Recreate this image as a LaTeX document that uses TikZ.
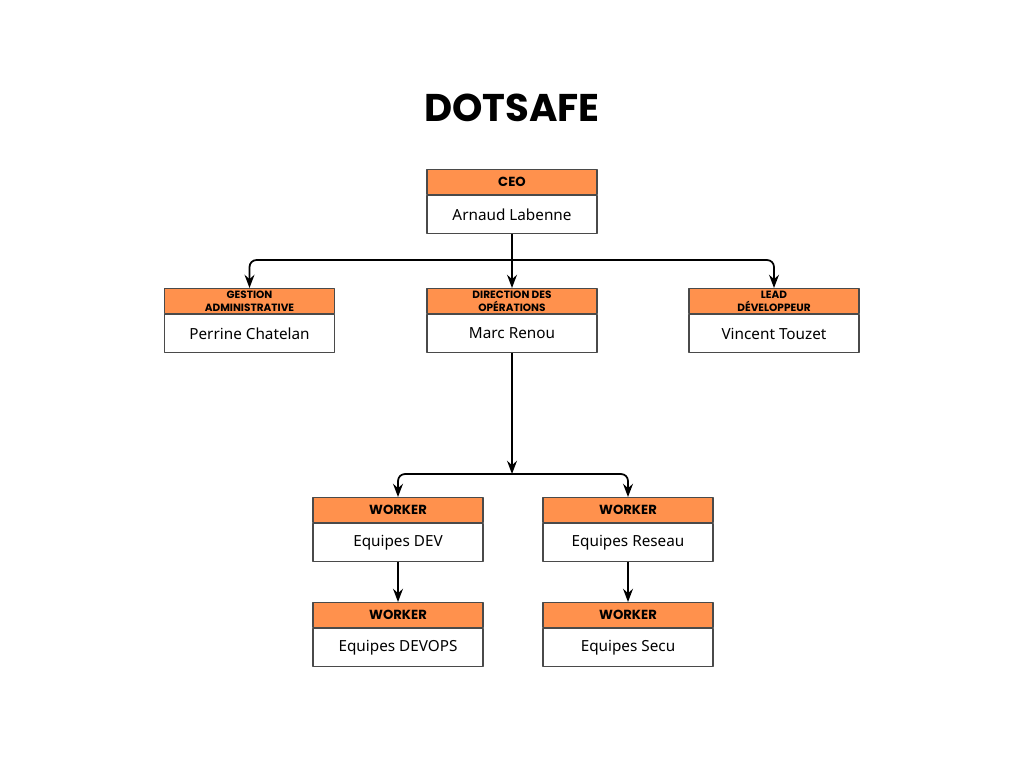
\documentclass[tikz,border=0pt]{standalone}
\usepackage{fontspec}
\setmainfont{Noto Sans}
\newfontfamily\poppins{Poppins}
\usetikzlibrary{arrows.meta}
\definecolor{dsorange}{HTML}{FF914D}
\definecolor{boxline}{HTML}{4A4A4A}
\begin{document}
\begin{tikzpicture}[x=0.02cm,y=-0.02cm,>=Stealth,line join=round,
  hdr/.style={draw=boxline,line width=0.6pt,fill=dsorange,minimum width=3.4cm,minimum height=0.5cm,inner sep=0pt,anchor=north,align=center,font=\poppins\bfseries\fontsize{7.5}{8}\selectfont},
  hdrsmall/.style={hdr,font=\poppins\bfseries\fontsize{6}{7.2}\selectfont},
  body/.style={draw=boxline,line width=0.6pt,fill=white,minimum width=3.4cm,minimum height=0.76cm,inner sep=0pt,anchor=north,font=\fontsize{8.7}{10}\selectfont},
  link/.style={->,line width=1pt,rounded corners=4pt}]
				\useasboundingbox (0,0) rectangle (1024,768);
				\node[font=\poppins\bfseries\fontsize{22}{24}\selectfont] (title) at (512,108) {DOTSAFE};
				% first level
				\node[hdr] (ceoH) at (512,169) {CEO};
				\node[body] (ceo) at (ceoH.south) {Arnaud Labenne};
				\node[hdrsmall] (gesH) at (249.5,288) {GESTION\\ADMINISTRATIVE};
				\node[body] (ges) at (gesH.south) {Perrine Chatelan};
				\node[hdrsmall] (dirH) at (512,288) {DIRECTION DES\\OPÉRATIONS};
				\node[body] (dir) at (dirH.south) {Marc Renou};
				\node[hdrsmall] (leadH) at (774,288) {LEAD\\DÉVELOPPEUR};
				\node[body] (lead) at (leadH.south) {Vincent Touzet};
				% workers
				\node[hdr] (devH) at (398,497) {WORKER};
				\node[body] (dev) at (devH.south) {Equipes DEV};
				\node[hdr] (resH) at (628,497) {WORKER};
				\node[body] (res) at (resH.south) {Equipes Reseau};
				\node[hdr] (devopsH) at (398,602) {WORKER};
				\node[body] (devops) at (devopsH.south) {Equipes DEVOPS};
				\node[hdr] (secuH) at (628,602) {WORKER};
				\node[body] (secu) at (secuH.south) {Equipes Secu};
				% connectors
				\coordinate (top) at (512,260);
				\coordinate (split) at (512,474);
				\draw[link] (ceo.south) -- (dirH.north);
				\draw[link] (top) -| (gesH.north);
				\draw[link] (top) -| (leadH.north);
				\draw[link] (dir.south) -- (split);
				\draw[link] (split) -| (devH.north);
				\draw[link] (split) -| (resH.north);
				\draw[link] (dev.south) -- (devopsH.north);
				\draw[link] (res.south) -- (secuH.north);
\end{tikzpicture}
\end{document}
